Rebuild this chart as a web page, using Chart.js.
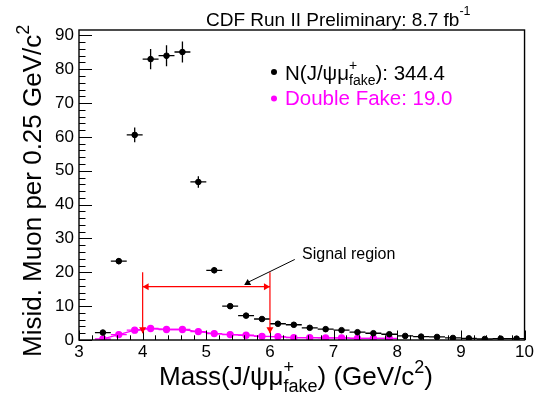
<!DOCTYPE html>
<html>
<head>
<meta charset="utf-8">
<script src="https://cdn.jsdelivr.net/npm/chart.js@4.4.1/dist/chart.umd.min.js"></script>
<style>
  html, body { margin: 0; padding: 0; background: #fff; }
  #wrap { width: 536px; height: 399px; }
</style>
</head>
<body>
<div id="wrap"><canvas id="chart"></canvas></div>
<script>
// Dane (środki binów 0.25 GeV/c^2)
const fakeMass = [3.375, 3.625, 3.875, 4.125, 4.375, 4.625, 4.875, 5.125, 5.375, 5.625, 5.875, 6.125, 6.375, 6.625,
                  6.875, 7.125, 7.375, 7.625, 7.875, 8.125, 8.375, 8.625, 8.875, 9.125, 9.375, 9.625, 9.875];
const fakeCounts = [2.2, 23.3, 60.6, 83.0, 84.0, 85.1, 46.7, 20.6, 10.0, 7.2, 6.2, 4.8, 4.5, 3.6,
                    3.2, 2.9, 2.3, 2.0, 1.7, 1.2, 1.0, 0.9, 0.6, 0.5, 0.3, 0.4, 0.4];
const fakeErrors = [0.5, 0.9, 2.2, 3.0, 3.1, 3.1, 1.7, 0.9, 0.5, 0.4, 0.4, 0.3, 0.3, 0.3,
                    0.3, 0.3, 0.3, 0.2, 0.2, 0.2, 0.2, 0.2, 0.2, 0.2, 0.2, 0.2, 0.2];

const doubleMass = [3.375, 3.625, 3.875, 4.125, 4.375, 4.625, 4.875, 5.125, 5.375, 5.625, 5.875, 6.125, 6.375,
                    6.625, 6.875, 7.125, 7.375, 7.625, 7.875];
const doubleCounts = [0.3, 1.6, 2.9, 3.4, 3.1, 3.1, 2.5, 1.9, 1.6, 1.4, 1.1, 1.0, 0.7,
                      0.7, 0.6, 0.6, 0.5, 0.5, 0.5];
const doubleErrors = [0.2, 0.3, 0.4, 0.4, 0.4, 0.4, 0.3, 0.3, 0.3, 0.3, 0.2, 0.2, 0.2,
                      0.2, 0.2, 0.2, 0.2, 0.2, 0.2];

const binHalf = 0.125;
const xTickLabels = [3, 4, 5, 6, 7, 8, 9, 10];
const yTickLabels = [0, 10, 20, 30, 40, 50, 60, 70, 80, 90];

// Adnotacje (sygnał 4-6 GeV)
const signalLow = 4, signalHigh = 6;
const signalArrowY = 15.75, signalLineTop = 20, signalLineBottom = 2.0;
const pointerFrom = [6.39, 23.8], pointerTo = [5.65, 17.0];

const FONT = '"Liberation Sans", Arial, Helvetica, sans-serif';
const MAGENTA = '#ff00ff';
const RED = '#ff0000';

const toPts = (xs, ys) => xs.map((x, i) => ({ x: x, y: ys[i] }));

// Tekst z indeksami górnymi/dolnymi
const drawRich = (ctx, x, y, parts, color) => {
    ctx.save();
    ctx.fillStyle = color;
    ctx.textAlign = 'left';
    ctx.textBaseline = 'alphabetic';
    let cx = x;
    parts.forEach(p => {
        ctx.font = p.size + 'px ' + FONT;
        if (p.supsub) {
            const w1 = ctx.measureText(p.sup).width;
            const w2 = ctx.measureText(p.sub).width;
            ctx.fillText(p.sup, cx, y + p.supDy);
            ctx.fillText(p.sub, cx, y + p.subDy);
            cx += Math.max(w1, w2);
        } else {
            ctx.fillText(p.t, cx, y + (p.dy || 0));
            cx += ctx.measureText(p.t).width;
        }
    });
    ctx.restore();
    return cx;
};

const arrowHead = (ctx, x1, y1, x2, y2, len, half, color) => {
    const a = Math.atan2(y2 - y1, x2 - x1);
    ctx.save();
    ctx.fillStyle = color;
    ctx.beginPath();
    ctx.moveTo(x2, y2);
    ctx.lineTo(x2 - len * Math.cos(a) + half * Math.sin(a), y2 - len * Math.sin(a) - half * Math.cos(a));
    ctx.lineTo(x2 - len * Math.cos(a) - half * Math.sin(a), y2 - len * Math.sin(a) + half * Math.cos(a));
    ctx.closePath();
    ctx.fill();
    ctx.restore();
};

// Słupki błędów
const errorBarsPlugin = {
    id: 'errorBars',
    beforeDatasetsDraw(chart) {
        const { ctx, scales: { x, y } } = chart;
        const drawSet = (xs, ys, es, color) => {
            ctx.save();
            ctx.strokeStyle = color;
            ctx.lineWidth = 1.3;
            ctx.beginPath();
            xs.forEach((m, i) => {
                const px = x.getPixelForValue(m);
                const py = y.getPixelForValue(ys[i]);
                ctx.moveTo(x.getPixelForValue(m - binHalf), py);
                ctx.lineTo(x.getPixelForValue(m + binHalf), py);
                ctx.moveTo(px, y.getPixelForValue(ys[i] - es[i]));
                ctx.lineTo(px, y.getPixelForValue(ys[i] + es[i]));
            });
            ctx.stroke();
            ctx.restore();
        };
        drawSet(fakeMass, fakeCounts, fakeErrors, '#000');
        drawSet(doubleMass, doubleCounts, doubleErrors, MAGENTA);
    }
};

// Ramka, ticki, opisy, legenda, strzałki
const decorPlugin = {
    id: 'decor',
    afterDraw(chart) {
        const { ctx, chartArea: a, scales: { x, y } } = chart;
        ctx.save();
        ctx.strokeStyle = '#000';
        ctx.lineWidth = 1.4;
        ctx.strokeRect(a.left, a.top, a.right - a.left, a.bottom - a.top);

        // ticki osi Y (co 2, główne co 10)
        ctx.lineWidth = 1;
        ctx.beginPath();
        for (let v = 0; v <= 91; v += 2) {
            const py = Math.round(y.getPixelForValue(v)) + 0.5;
            const len = v % 10 === 0 ? 13 : 6.5;
            ctx.moveTo(a.left, py);
            ctx.lineTo(a.left + len, py);
        }
        // ticki osi X (co 0.2, główne co 1)
        for (let k = 0; k <= 35; k++) {
            const v = 3 + k * 0.2;
            const px = Math.round(x.getPixelForValue(v)) + 0.5;
            const len = k % 5 === 0 ? 9.5 : 4.7;
            ctx.moveTo(px, a.bottom);
            ctx.lineTo(px, a.bottom - len);
        }
        ctx.stroke();

        // region sygnału
        ctx.strokeStyle = RED;
        ctx.lineWidth = 1.2;
        const xl = x.getPixelForValue(signalLow), xh = x.getPixelForValue(signalHigh);
        const yt = y.getPixelForValue(signalLineTop), yb = y.getPixelForValue(signalLineBottom);
        const ya = y.getPixelForValue(signalArrowY);
        ctx.beginPath();
        ctx.moveTo(xl, yt); ctx.lineTo(xl, yb);
        ctx.moveTo(xh, yt); ctx.lineTo(xh, yb);
        ctx.moveTo(xl, ya); ctx.lineTo(xh, ya);
        ctx.stroke();
        arrowHead(ctx, xl, yt, xl, yb, 6, 3.5, RED);
        arrowHead(ctx, xh, yt, xh, yb, 6, 3.5, RED);
        arrowHead(ctx, xh, ya, xl, ya, 6, 3.5, RED);
        arrowHead(ctx, xl, ya, xh, ya, 6, 3.5, RED);

        // wskaźnik "Signal region" z trójkątem
        const p1x = x.getPixelForValue(pointerFrom[0]), p1y = y.getPixelForValue(pointerFrom[1]);
        const p2x = x.getPixelForValue(pointerTo[0]), p2y = y.getPixelForValue(pointerTo[1]);
        ctx.strokeStyle = '#000';
        ctx.lineWidth = 1;
        ctx.beginPath();
        ctx.moveTo(p1x, p1y); ctx.lineTo(p2x, p2y);
        ctx.stroke();
        ctx.fillStyle = '#000';
        ctx.beginPath();
        ctx.moveTo(p2x, p2y - 3.5);
        ctx.lineTo(p2x + 3.5, p2y + 2.5);
        ctx.lineTo(p2x - 3.5, p2y + 2.5);
        ctx.closePath();
        ctx.fill();
        ctx.restore();

        drawRich(ctx, 302, 259, [{ t: 'Signal region', size: 16 }], '#000');

        // tytuł
        drawRich(ctx, 206, 26, [
            { t: 'CDF Run II Preliminary: 8.7 fb', size: 19 },
            { t: '-1', size: 12.5, dy: -11 }
        ], '#000');

        // legenda
        ctx.save();
        ctx.fillStyle = '#000';
        ctx.beginPath(); ctx.arc(274, 72, 3, 0, Math.PI * 2); ctx.fill();
        ctx.fillStyle = MAGENTA;
        ctx.beginPath(); ctx.arc(274, 98.5, 3, 0, Math.PI * 2); ctx.fill();
        ctx.restore();
        drawRich(ctx, 285, 80, [
            { t: 'N(J/\u03c8\u03bc', size: 20.5 },
            { supsub: true, sup: '+', sub: 'fake', size: 14, supDy: -10, subDy: 5 },
            { t: '): 344.4', size: 20.5 }
        ], '#000');
        drawRich(ctx, 285, 105, [{ t: 'Double Fake: 19.0', size: 20.5 }], MAGENTA);

        // tytuł osi X
        drawRich(ctx, 159, 385, [
            { t: 'Mass(J/\u03c8\u03bc', size: 26 },
            { supsub: true, sup: '+', sub: 'fake', size: 18, supDy: -12, subDy: 7 },
            { t: ') (GeV/c', size: 26 },
            { t: '2', size: 18, dy: -12 },
            { t: ')', size: 26 }
        ], '#000');

        // tytuł osi Y
        ctx.save();
        ctx.translate(41, 357);
        ctx.rotate(-Math.PI / 2);
        drawRich(ctx, 0, 0, [
            { t: 'Misid. Muon per 0.25 GeV/c', size: 26 },
            { t: '2', size: 18, dy: -12 }
        ], '#000');
        ctx.restore();
    }
};

const tickFont = { family: FONT, size: 17 };

new Chart(document.getElementById('chart'), {
    type: 'scatter',
    data: {
        datasets: [
            {
                label: 'N(J/psi mu fake)',
                data: toPts(fakeMass, fakeCounts),
                backgroundColor: '#000',
                borderColor: '#000',
                pointRadius: 2.8,
                pointHoverRadius: 2.8,
                showLine: false
            },
            {
                label: 'Double Fake',
                data: toPts(doubleMass, doubleCounts),
                backgroundColor: MAGENTA,
                borderColor: MAGENTA,
                borderWidth: 1.3,
                pointRadius: 3,
                pointHoverRadius: 3,
                showLine: true,
                tension: 0
            }
        ]
    },
    options: {
        responsive: true,
        maintainAspectRatio: false,
        animation: false,
        events: [],
        layout: { padding: { top: 30, right: 9, left: 0, bottom: 0 } },
        plugins: {
            legend: { display: false },
            tooltip: { enabled: false }
        },
        scales: {
            x: {
                type: 'linear',
                min: 3,
                max: 10,
                grid: { display: false, drawTicks: false },
                border: { display: false },
                afterBuildTicks: (s) => { s.ticks = xTickLabels.map(v => ({ value: v })); },
                afterFit: (s) => { s.height = 59; },
                ticks: { color: '#000', font: tickFont, padding: 2, maxRotation: 0, autoSkip: false }
            },
            y: {
                type: 'linear',
                min: 0,
                max: 91.6,
                grid: { display: false, drawTicks: false },
                border: { display: false },
                afterBuildTicks: (s) => { s.ticks = yTickLabels.map(v => ({ value: v })); },
                afterFit: (s) => { s.width = 79; },
                ticks: { color: '#000', font: tickFont, padding: 5, autoSkip: false }
            }
        }
    },
    plugins: [errorBarsPlugin, decorPlugin]
});
</script>
</body>
</html>
